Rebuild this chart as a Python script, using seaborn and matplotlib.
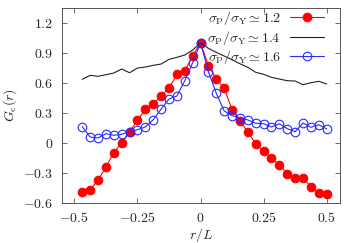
import matplotlib
matplotlib.use("Agg")
import matplotlib.pyplot as plt
import pandas as pd
import seaborn as sns

sns.set_theme(style='ticks')
plt.rcParams['mathtext.fontset'] = 'cm'
plt.rcParams['font.family'] = ['DejaVu Serif']

# r/L positions (32-site periodic lattice)
r = [-0.46875, -0.4375, -0.40625, -0.375, -0.34375, -0.3125, -0.28125, -0.25,
     -0.21875, -0.1875, -0.15625, -0.125, -0.09375, -0.0625, -0.03125, 0.0,
     0.03125, 0.0625, 0.09375, 0.125, 0.15625, 0.1875, 0.21875, 0.25,
     0.28125, 0.3125, 0.34375, 0.375, 0.40625, 0.4375, 0.46875, 0.5]

g_12 = [-0.496, -0.473, -0.376, -0.243, -0.10, 0.0, 0.11, 0.224, 0.334, 0.384,
        0.472, 0.544, 0.684, 0.717, 0.87, 1.0,
        0.77, 0.64, 0.544, 0.33, 0.217, 0.107, -0.01, -0.086, -0.157, -0.22,
        -0.31, -0.35, -0.357, -0.44, -0.50, -0.513]
g_14 = [0.634, 0.674, 0.664, 0.68, 0.697, 0.737, 0.70, 0.747, 0.757, 0.774,
        0.787, 0.834, 0.854, 0.877, 0.927, 1.0,
        0.944, 0.904, 0.867, 0.83, 0.79, 0.754, 0.704, 0.684, 0.654, 0.637,
        0.62, 0.617, 0.58, 0.60, 0.614, 0.587]
g_16 = [0.16, 0.057, 0.047, 0.09, 0.074, 0.084, 0.11, 0.13, 0.157, 0.23,
        0.337, 0.437, 0.467, 0.62, 0.80, 1.0,
        0.71, 0.494, 0.317, 0.27, 0.25, 0.227, 0.194, 0.19, 0.157, 0.19,
        0.14, 0.11, 0.197, 0.154, 0.18, 0.137]

labels = [r'$\sigma_{\rm P}/\sigma_{\rm Y} \simeq 1.2$',
          r'$\sigma_{\rm P}/\sigma_{\rm Y} \simeq 1.4$',
          r'$\sigma_{\rm P}/\sigma_{\rm Y} \simeq 1.6$']

xticks = [-0.5, -0.25, 0, 0.25, 0.5]
xticklabels = [r'$-0.5$', r'$-0.25$', r'$0$', r'$0.25$', r'$0.5$']
yticks = [-0.6, -0.3, 0, 0.3, 0.6, 0.9, 1.2]
yticklabels = [r'$-0.6$', r'$-0.3$', r'$0$', r'$0.3$', r'$0.6$', r'$0.9$', r'$1.2$']

df = pd.DataFrame({'r': r, 'g12': g_12, 'g14': g_14, 'g16': g_16})

fig = plt.figure(figsize=(3.47, 2.43), dpi=100)
ax = fig.add_axes([0.178, 0.166, 0.802, 0.800])

sns.lineplot(data=df, x='r', y='g12', ax=ax, color='#ff0000', lw=0.8,
             marker='o', markersize=6.2, markerfacecolor='#ff0000',
             markeredgecolor='#ff0000', label=labels[0])
sns.lineplot(data=df, x='r', y='g14', ax=ax, color='#222222', lw=0.8,
             label=labels[1])
sns.lineplot(data=df, x='r', y='g16', ax=ax, color='#2a2aff', lw=0.8,
             marker='o', markersize=6.2, markerfacecolor='none',
             markeredgecolor='#2a2aff', markeredgewidth=0.8, label=labels[2])

ax.set_xlim(-0.55, 0.553)
ax.set_ylim(-0.6, 1.345)
ax.set_xticks(xticks)
ax.set_xticklabels(xticklabels)
ax.set_yticks(yticks)
ax.set_yticklabels(yticklabels)
ax.tick_params(direction='in', top=True, right=True, length=3.5, width=0.6,
               color='#555555', labelsize=10, pad=6)
for s in ax.spines.values():
    s.set_color('#555555')
    s.set_linewidth(0.7)

ax.set_xlabel(r'$r/L$', fontsize=10, labelpad=1)
ax.set_ylabel(r'$G_{\rm c}(r)$', fontsize=10, labelpad=3)

ax.legend(loc='upper right', bbox_to_anchor=(0.9425, 0.995), frameon=False,
          markerfirst=False, fontsize=10, handlelength=2.45,
          labelspacing=0.1, borderaxespad=0.0, handletextpad=0.65,
          borderpad=0.0)

plt.savefig('out.png', dpi=100)
